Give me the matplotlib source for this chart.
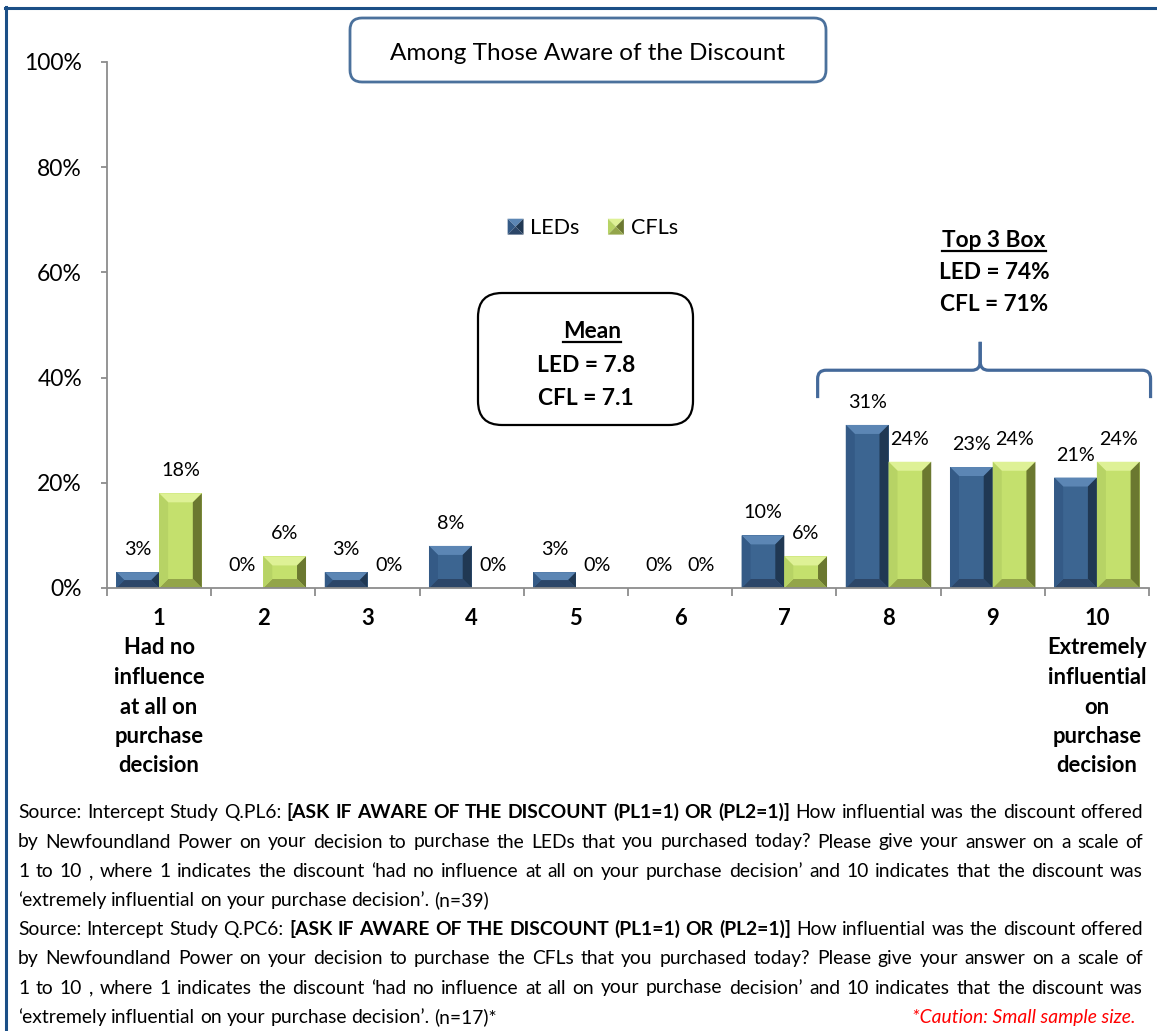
import matplotlib
matplotlib.use('Agg')
import matplotlib.pyplot as plt
import numpy as np
from matplotlib.patches import Polygon, FancyBboxPatch, PathPatch, Patch
from matplotlib.path import Path
from matplotlib.lines import Line2D
from matplotlib.transforms import IdentityTransform
from matplotlib.font_manager import FontProperties
from matplotlib.legend_handler import HandlerBase

FAMILY = ['Lato', 'DejaVu Sans']
plt.rcParams['font.family'] = FAMILY

# ---------------- data ----------------
categories = [1, 2, 3, 4, 5, 6, 7, 8, 9, 10]
cat_labels = ['1\nHad no\ninfluence\nat all on\npurchase\ndecision', '2', '3', '4', '5',
              '6', '7', '8', '9', '10\nExtremely\ninfluential\non\npurchase\ndecision']
led_values = [3, 0, 3, 8, 3, 0, 10, 31, 23, 21]
cfl_values = [18, 6, 0, 0, 0, 0, 6, 24, 24, 24]
series_names = ['LEDs', 'CFLs']
y_ticks = [0, 20, 40, 60, 80, 100]
y_tick_labels = ['0%', '20%', '40%', '60%', '80%', '100%']
title_text = 'Among Those Aware of the Discount'
mean_lines = ['Mean', 'LED = 7.8', 'CFL = 7.1']
top3_lines = ['Top 3 Box', 'LED = 74%', 'CFL = 71%']
footer_p1 = [
    [("Source: Intercept Study Q.PL6:", False), ("[ASK IF AWARE OF THE DISCOUNT (PL1=1) OR (PL2=1)]", True),
     ("How influential was the discount offered", False)],
    [("by Newfoundland Power on your decision to purchase the LEDs that you purchased today? Please give your answer on a scale of", False)],
    [("1 to 10 , where 1 indicates the discount \u2018had no influence at all on your purchase decision\u2019 and 10 indicates that the discount was", False)],
    [("\u2018extremely influential on your purchase decision\u2019. (n=39)", False)],
]
footer_p2 = [
    [("Source: Intercept Study Q.PC6:", False), ("[ASK IF AWARE OF THE DISCOUNT (PL1=1) OR (PL2=1)]", True),
     ("How influential was the discount offered", False)],
    [("by Newfoundland Power on your decision to purchase the CFLs that you purchased today? Please give your answer on a scale of", False)],
    [("1 to 10 , where 1 indicates the discount \u2018had no influence at all on your purchase decision\u2019 and 10 indicates that the discount was", False)],
    [("\u2018extremely influential on your purchase decision\u2019. (n=17)*", False)],
]
caution_text = '*Caution: Small sample size.'

# ---------------- styles ----------------
LED_COLS = dict(face='#3c6591', top='#5c86b4', left='#345a86', right='#203853', bottom='#2c4668')
CFL_COLS = dict(face='#c4e06d', top='#def196', left='#b7d365', right='#6b7830', bottom='#93a54a')
GRAY = '#8c8c8c'
BORDER = '#1b4f86'

W, H = 1157, 1031
fig = plt.figure(figsize=(W / 100, H / 100), dpi=100)
fig.patch.set_facecolor('white')
renderer = fig.canvas.get_renderer()


def fprop(size, weight='normal', style='normal'):
    return FontProperties(family=FAMILY, size=size, weight=weight, style=style)


def text_metrics(s, size, weight='normal', style='normal'):
    return renderer.get_text_width_height_descent(s, fprop(size, weight, style), ismath=False)


def text_w(s, size, weight='normal', style='normal'):
    return text_metrics(s, size, weight, style)[0]


def fit(s, target, weight='normal', style='normal'):
    return 10.0 * target / text_w(s, 10, weight, style)


def FX(x):
    return x / W


def FY(y):
    return 1 - y / H


def split_words(segs):
    words = []
    for t, b in segs:
        for wd in t.split(' '):
            if wd:
                words.append((wd, b))
    return words


def natural_width(segs, size):
    words = split_words(segs)
    sp = text_w('a a', size) - text_w('aa', size)
    return sum(text_w(wd, size, 'bold' if b else 'normal') for wd, b in words) + sp * (len(words) - 1)


tick_size = fit('100%', 58)
dl_size = fit('24%', 39)
cat_size = fit('influence', 91, 'bold')
title_size = fit(title_text, 395)
leg_size = fit('LEDs', 49)
box_size = fit('LED = 7.8', 98, 'bold')
top_size = fit('LED = 74%', 111, 'bold')
foot_size = min(fit(footer_p1[3][0][0], 499),
                10.0 * 1117 / natural_width(footer_p1[0], 10),
                10.0 * 1119 / natural_width(footer_p1[2], 10))

# ---------------- axes ----------------
ax = fig.add_axes([107 / W, 1 - 588 / H, (1149 - 107) / W, (588 - 62) / H])
ax.set_xlim(0.5, 10.5)
ax.set_ylim(0, 100)
ax.set_facecolor('none')

x = np.array(categories, dtype=float)
bw = 0.41
bars_led = ax.bar(x - bw / 2, led_values, bw, color=LED_COLS['face'], linewidth=0, label=series_names[0])
bars_cfl = ax.bar(x + bw / 2, cfl_values, bw, color=CFL_COLS['face'], linewidth=0, label=series_names[1])

for sp in ['top', 'right']:
    ax.spines[sp].set_visible(False)
for sp in ['left', 'bottom']:
    ax.spines[sp].set_color(GRAY)
    ax.spines[sp].set_linewidth(1.3)

ax.set_yticks(y_ticks)
ax.set_yticklabels(y_tick_labels, fontsize=tick_size, color='black')
ax.tick_params(axis='y', length=6 * 0.72, width=1.3, color=GRAY, pad=19 * 0.72)

# category labels: line spacing and pad computed from font metrics
lw_, lh_, ld_ = text_metrics('lp', cat_size, 'bold')
ls = (29.5 - ld_) / (lh_ - ld_)
first_baseline = 625
label_top = first_baseline - (lh_ - ld_)
ax.set_xticks(categories)
ax.set_xticklabels(cat_labels, fontsize=cat_size, fontweight='bold', linespacing=ls, color='black')
ax.set_xticks(np.arange(0.5, 11, 1), minor=True)
ax.tick_params(axis='x', which='major', length=0, pad=(label_top - 588) * 0.72)
ax.tick_params(axis='x', which='minor', length=8 * 0.72, width=1.3, color=GRAY)

# bevel effect on the bars
inv = ax.transData.inverted()


def bevel(rect, cols, d=9):
    (x0, y0), (x1, y1) = ax.transData.transform(
        [(rect.get_x(), rect.get_y()), (rect.get_x() + rect.get_width(), rect.get_y() + rect.get_height())])
    h = y1 - y0
    w = x1 - x0
    if h <= 0.5:
        return
    dd = min(d, h / 2, w / 2)
    polys = [
        ([(x0, y1), (x1, y1), (x1 - dd, y1 - dd), (x0 + dd, y1 - dd)], cols['top']),
        ([(x1, y1), (x1, y0), (x1 - dd, y0 + dd), (x1 - dd, y1 - dd)], cols['right']),
        ([(x0, y0), (x1, y0), (x1 - dd, y0 + dd), (x0 + dd, y0 + dd)], cols['bottom']),
        ([(x0, y0), (x0, y1), (x0 + dd, y1 - dd), (x0 + dd, y0 + dd)], cols['left']),
    ]
    for pts, c in polys:
        ax.add_patch(Polygon(inv.transform(pts), closed=True, fc=c, ec='none', lw=0))


for r in bars_led:
    bevel(r, LED_COLS)
for r in bars_cfl:
    bevel(r, CFL_COLS)

# data labels
for xi, v in zip(x - bw / 2, led_values):
    ax.annotate(f'{v}%', (xi, v), xytext=(0, 17 * 0.72), textcoords='offset points',
                ha='center', va='baseline', fontsize=dl_size, color='black')
for xi, v in zip(x + bw / 2, cfl_values):
    ax.annotate(f'{v}%', (xi, v), xytext=(0, 17 * 0.72), textcoords='offset points',
                ha='center', va='baseline', fontsize=dl_size, color='black')


# legend with pyramid-shaded markers
class PyramidHandler(HandlerBase):
    def __init__(self, cols):
        super().__init__()
        self.cols = cols

    def create_artists(self, legend, orig_handle, xdescent, ydescent, width, height, fontsize, trans):
        s = height
        x0 = -xdescent + (width - s) / 2
        y0 = -ydescent
        x1, y1 = x0 + s, y0 + s
        c = (x0 + s / 2, y0 + s / 2)
        tris = [
            ([(x0, y1), (x1, y1), c], self.cols['top']),
            ([(x0, y0), (x0, y1), c], self.cols['left']),
            ([(x1, y0), (x1, y1), c], self.cols['right']),
            ([(x0, y0), (x1, y0), c], self.cols['bottom']),
        ]
        arts = []
        for pts, col in tris:
            p = Polygon(pts, closed=True, fc=col, ec='none', lw=0)
            p.set_transform(trans)
            arts.append(p)
        return arts


h_led = Patch(color=LED_COLS['face'])
h_cfl = Patch(color=CFL_COLS['face'])
ax.legend([h_led, h_cfl], series_names, loc='center', bbox_to_anchor=(0.466, 0.684), ncol=2,
          frameon=False, fontsize=leg_size, handlelength=0.75, handleheight=0.75,
          handletextpad=0.3, columnspacing=1.3, borderpad=0,
          handler_map={h_led: PyramidHandler(LED_COLS), h_cfl: PyramidHandler(CFL_COLS)})

# bracket over categories 8-10 (data coordinates)
xl, xr = 7.32, 10.515
xc = 8.88
y_end, y_bar, y_tip = 36.1, 41.4, 46.8
rx, ry = 0.08, 1.6
for side in (-1, 1):
    xe = xl if side < 0 else xr
    s = 1 if side < 0 else -1
    verts = [(xe, y_end), (xe, y_bar - ry), (xe, y_bar), (xe + s * rx, y_bar),
             (xc - s * rx, y_bar), (xc, y_bar), (xc, y_bar + ry), (xc, y_tip)]
    codes = [Path.MOVETO, Path.LINETO, Path.CURVE3, Path.CURVE3,
             Path.LINETO, Path.CURVE3, Path.CURVE3, Path.LINETO]
    ax.add_patch(PathPatch(Path(verts, codes), fc='none', ec='#44699a', lw=2.3,
                           capstyle='butt', joinstyle='round', clip_on=False))

# ---------------- figure-level decorations ----------------
ID = IdentityTransform()
fig.add_artist(Line2D([6, 6], [H - 7, 0], transform=ID, color=BORDER, lw=2.2))
fig.add_artist(Line2D([5, W], [H - 8, H - 8], transform=ID, color=BORDER, lw=2.2))

# title box
fig.add_artist(FancyBboxPatch((350, H - 82), 476, 64, boxstyle='round,pad=0,rounding_size=12',
                              transform=ID, fc='white', ec='#4b719c', lw=2.0))
fig.text(FX(588), FY(60), title_text, fontsize=title_size, ha='center', va='baseline', color='black')

# mean box
fig.add_artist(FancyBboxPatch((478, H - 425), 215, 132, boxstyle='round,pad=0,rounding_size=24',
                              transform=ID, fc='white', ec='black', lw=1.6))


def underline(xc_, base, s, size):
    w = text_w(s, size, 'bold')
    fig.add_artist(Line2D([xc_ - w / 2, xc_ + w / 2], [H - base - 3.5, H - base - 3.5], transform=ID,
                          color='black', lw=1.6))


mean_x = [592, 586, 586]
mean_base = [338, 371.5, 405]
for xx, yy, s in zip(mean_x, mean_base, mean_lines):
    fig.text(FX(xx), FY(yy), s, fontsize=box_size, fontweight='bold', ha='center', va='baseline', color='black')
underline(mean_x[0], mean_base[0], mean_lines[0], box_size)

top_base = [247, 279, 311]
for yy, s in zip(top_base, top3_lines):
    fig.text(FX(994), FY(yy), s, fontsize=top_size, fontweight='bold', ha='center', va='baseline', color='black')
underline(994, top_base[0], top3_lines[0], top_size)

# footer (justified)
XL, XR = 18, 1143
space_w = text_w('a a', foot_size) - text_w('aa', foot_size)


def draw_line(segs, base, justify):
    words = split_words(segs)
    widths = [text_w(wd, foot_size, 'bold' if b else 'normal') for wd, b in words]
    if justify and len(words) > 1:
        gap = (XR - XL - sum(widths)) / (len(words) - 1)
    else:
        gap = space_w
    xx = XL
    for (wd, b), wdt in zip(words, widths):
        fig.text(FX(xx), FY(base), wd, fontsize=foot_size, fontweight='bold' if b else 'normal',
                 ha='left', va='baseline', color='black')
        xx += wdt + gap


foot_bases = [818, 847.5, 877, 906, 935, 964, 993.5, 1023]
for i, segs in enumerate(footer_p1):
    draw_line(segs, foot_bases[i], i < 3)
for i, segs in enumerate(footer_p2):
    draw_line(segs, foot_bases[4 + i], i < 3)
fig.text(FX(1136), FY(foot_bases[7]), caution_text, fontsize=foot_size, fontstyle='italic',
         color='#ff0000', ha='right', va='baseline')

fig.savefig('out.png', dpi=100, facecolor='white')
